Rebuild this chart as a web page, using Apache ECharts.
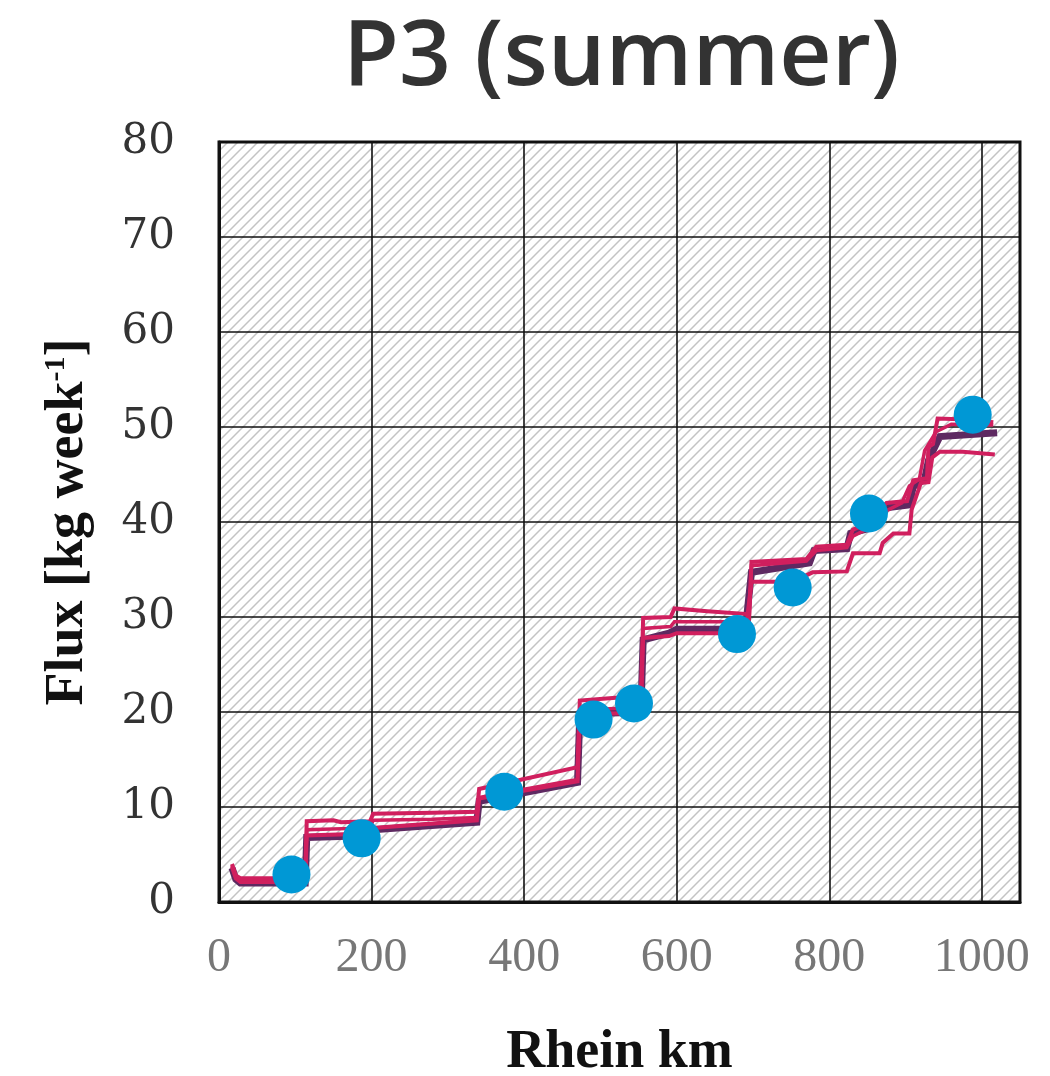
<!DOCTYPE html>
<html>
<head>
<meta charset="utf-8">
<script src="https://cdn.jsdelivr.net/npm/echarts@6/dist/echarts.min.js"></script>
<style>
  html, body { margin: 0; padding: 0; background: #fff; }
  #chart { width: 1050px; height: 1076px; }
</style>
</head>
<body>
<div id="chart"></div>
<script>
// Rhine km vs. cumulative flux, summer scenario P3
const xTicks = [0, 200, 400, 600, 800, 1000];
const yTicks = [0, 10, 20, 30, 40, 50, 60, 70, 80];

// upper model run
const runUpper = [
  [17, 4.0], [22, 2.8], [28, 2.5], [113, 2.5], [115, 8.5], [150, 8.6], [160, 8.4], [198, 8.5],
  [202, 9.3], [280, 9.4], [338, 9.5], [341, 11.9], [470, 14.2], [473, 21.2], [553, 21.7],
  [556, 29.9], [592, 30.0], [597, 30.9], [640, 30.6], [695, 30.3], [698, 35.8], [770, 36.1],
  [783, 37.4], [823, 37.6], [831, 39.2], [850, 39.8], [875, 42.0], [902, 42.2], [910, 44.4],
  [928, 44.6], [930, 47.9], [936, 48.2], [942, 50.9], [980, 50.8], [1015, 50.5]
];
// second model run
const runSecond = [
  [17, 3.8], [22, 2.6], [28, 2.3], [113, 2.3], [115, 7.6], [198, 7.8], [202, 8.6], [280, 8.7],
  [338, 8.9], [341, 11.0], [470, 12.9], [473, 20.2], [553, 20.5], [556, 28.8], [592, 29.0],
  [597, 29.5], [695, 29.5], [698, 35.4], [770, 35.9], [783, 37.0], [823, 37.3], [831, 38.5],
  [855, 39.5], [875, 41.2], [895, 42.0], [905, 43.8], [918, 44.5], [925, 47.5], [940, 49.5],
  [960, 50.3], [1015, 50.2]
];
// central run
const runMedian = [
  [17, 3.6], [22, 2.4], [28, 2.0], [113, 2.0], [115, 6.8], [198, 7.0], [202, 7.6], [338, 8.4],
  [341, 10.6], [470, 12.6], [473, 19.8], [553, 20.0], [556, 27.6], [590, 28.3], [600, 28.7],
  [690, 28.7], [698, 34.7], [774, 35.7], [780, 37.0], [823, 37.2], [828, 38.8], [860, 39.5],
  [875, 41.5], [905, 41.8], [910, 43.7], [925, 44.5], [930, 46.5], [945, 49.0], [1020, 49.4]
];
// lower model run
const runLower = [
  [17, 3.7], [22, 2.5], [28, 2.1], [113, 2.1], [115, 7.0], [198, 7.2], [202, 7.8], [338, 8.6],
  [341, 10.9], [470, 12.7], [473, 19.8], [553, 19.9], [556, 27.8], [590, 28.0], [600, 28.3],
  [690, 28.3], [698, 33.7], [731, 33.7], [760, 34.0], [778, 34.7], [823, 34.8], [831, 36.7],
  [866, 36.7], [870, 37.8], [884, 38.8], [905, 38.8], [908, 41.3], [920, 44.1], [930, 44.2],
  [935, 46.8], [945, 47.4], [975, 47.4], [1017, 47.1]
];
// measured fluxes
const measured = [
  [95, 2.9], [187, 6.7], [374, 11.6], [491, 19.2], [544, 20.9],
  [679, 28.2], [752, 33.1], [852, 40.9], [988, 51.3]
];

const CRIMSON = '#d01f5e';
const PURPLE = '#5e2961';
const BLUE = '#0098d5';

// diagonal hatch tile for the plot background
function hatchTile() {
  const s = 10;
  const c = document.createElement('canvas');
  c.width = s; c.height = s;
  const g = c.getContext('2d');
  g.fillStyle = '#ffffff';
  g.fillRect(0, 0, s, s);
  g.strokeStyle = '#c4c4c4';
  g.lineWidth = 1.5;
  g.beginPath();
  g.moveTo(-s / 2, s / 2); g.lineTo(s / 2, -s / 2);
  g.moveTo(0, s); g.lineTo(s, 0);
  g.moveTo(s / 2, s * 1.5); g.lineTo(s * 1.5, s / 2);
  g.stroke();
  return c;
}

const chart = echarts.init(document.getElementById('chart'), null, { renderer: 'canvas' });

function lineSeries(data, color, width, z) {
  return {
    type: 'line', data: data, z: z, symbol: 'none', silent: true,
    lineStyle: { color: color, width: width, join: 'miter' }
  };
}

chart.setOption({
  animation: false,
  backgroundColor: '#ffffff',
  title: {
    text: 'P3 (summer)',
    left: 338, top: 9,
    textStyle: { fontFamily: 'Open Sans', fontWeight: 600, fontSize: 91, color: '#333333' }
  },
  grid: {
    left: 219, top: 142, right: 30, bottom: 174,
    containLabel: false,
    outerBoundsMode: 'none',
    show: true,
    backgroundColor: { image: hatchTile(), repeat: 'repeat' },
    borderColor: '#111111', borderWidth: 3
  },
  xAxis: {
    type: 'value', min: 0, max: 1050, interval: 200,
    name: 'Rhein km', nameLocation: 'middle', nameGap: 124,
    nameTextStyle: { fontFamily: 'Liberation Serif', fontWeight: 'bold', fontSize: 54, color: '#111111' },
    axisLine: { show: true, lineStyle: { color: '#111111', width: 3 } },
    axisTick: { show: false },
    axisLabel: {
      margin: 32, showMaxLabel: false,
      fontFamily: 'Liberation Serif', fontSize: 48, color: '#777777',
      formatter: function (v) { return xTicks.indexOf(v) >= 0 ? String(v) : ''; }
    },
    splitLine: { show: true, lineStyle: { color: '#111111', width: 1.6 } }
  },
  yAxis: {
    type: 'value', min: 0, max: 80, interval: 10,
    name: '{a|Flux [kg week}{s|-1}{a|]}', nameLocation: 'middle', nameGap: 124, nameRotate: 90,
    nameTextStyle: {
      rich: {
        a: { fontFamily: 'Liberation Serif', fontWeight: 'bold', fontSize: 54, color: '#111111' },
        s: { fontFamily: 'Liberation Serif', fontWeight: 'bold', fontSize: 30, color: '#111111', verticalAlign: 'top', padding: [0, 0, 24, 0] }
      }
    },
    axisLine: { show: true, lineStyle: { color: '#111111', width: 3 } },
    axisTick: { show: false },
    axisLabel: {
      margin: 44,
      fontFamily: 'DejaVu Serif', fontSize: 42, color: '#333333',
      formatter: function (v) { return yTicks.indexOf(v) >= 0 ? String(v) : ''; }
    },
    splitLine: { show: true, lineStyle: { color: '#111111', width: 1.6 } }
  },
  series: [
    lineSeries(runMedian, PURPLE, 7, 2),
    lineSeries(runLower, CRIMSON, 4, 3),
    lineSeries(runSecond, CRIMSON, 3.5, 3),
    lineSeries(runUpper, CRIMSON, 4, 3),
    {
      type: 'scatter', data: measured, z: 5, silent: true,
      symbol: 'circle', symbolSize: 38,
      itemStyle: { color: BLUE, opacity: 1 }
    }
  ]
});
</script>
</body>
</html>
